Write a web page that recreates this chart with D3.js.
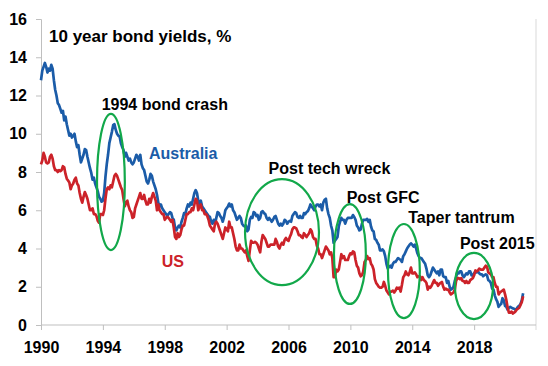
<!DOCTYPE html>
<html>
<head>
<meta charset="utf-8">
<script src="https://cdn.jsdelivr.net/npm/d3@7"></script>
<style>
  body { margin: 0; background: #fff; }
  svg text { font-family: "Liberation Sans", Arial, sans-serif; font-weight: bold; }
</style>
</head>
<body>
<div id="chart"></div>
<script>
// monthly 10y yields, one row per year (Jan..Dec)
const startYear = 1990;

const australia = [
  12.8, 13.3, 13.5, 13.7, 13.5, 13.2, 13.4, 13.3, 13.6, 13.4, 12.8, 12.3,
  12.0, 11.6, 11.5, 11.3, 11.1, 11.2, 10.7, 10.9, 10.5, 10.2, 9.9, 10.0,
  9.8, 9.9, 10.0, 9.6, 9.3, 9.4, 8.9, 8.5, 8.7, 8.9, 9.2, 9.15,
  8.8, 8.5, 8.2, 7.95, 7.6, 7.7, 7.4, 7.2, 7.0, 6.7, 6.6, 6.45,
  6.5, 6.9, 7.75, 8.4, 8.9, 9.5, 9.8, 10.1, 10.45, 10.5, 10.2, 10.0,
  9.9, 9.85, 9.5, 9.3, 9.15, 8.8, 9.0, 8.8, 8.6, 8.7, 8.5, 8.4,
  8.5, 8.7, 8.9, 8.8, 8.6, 8.9, 8.4, 8.2, 8.1, 7.8, 7.5, 7.4,
  7.6, 7.9, 7.8, 7.5, 7.3, 7.1, 6.8, 6.4, 6.2, 6.3, 6.1, 6.0,
  5.9, 5.8, 5.7, 5.8, 5.9, 5.85, 5.6, 5.5, 5.1, 4.95, 5.1, 5.2,
  5.1, 5.4, 5.6, 5.85, 5.8, 6.1, 6.3, 6.2, 6.4, 6.3, 6.6, 6.9,
  7.05, 6.9, 6.5, 6.3, 6.5, 6.2, 6.1, 6.0, 5.9, 5.8, 5.7, 5.65,
  5.4, 5.3, 5.5, 5.3, 5.6, 5.9, 5.85, 5.7, 5.6, 5.4, 5.65, 6.0,
  6.1, 6.2, 6.35, 6.2, 6.3, 6.0, 5.9, 5.7, 5.5, 5.6, 5.7, 5.6,
  5.3, 5.2, 5.15, 5.2, 4.9, 5.0, 5.5, 5.65, 5.6, 5.9, 5.85, 5.7,
  5.75, 5.5, 5.6, 5.9, 5.95, 5.85, 5.8, 5.6, 5.5, 5.6, 5.5, 5.4,
  5.5, 5.65, 5.7, 5.5, 5.3, 5.2, 5.3, 5.2, 5.3, 5.5, 5.45, 5.3,
  5.4, 5.45, 5.4, 5.7, 5.8, 5.9, 5.85, 5.65, 5.6, 5.7, 5.6, 5.6,
  5.85, 5.8, 5.9, 5.95, 6.1, 6.3, 6.2, 6.1, 6.0, 6.2, 6.3, 6.3,
  6.2, 6.3, 6.0, 6.4, 6.55, 6.6, 6.1, 5.8, 5.6, 5.2, 4.95, 4.3,
  4.4, 4.5, 4.6, 5.15, 5.4, 5.6, 5.5, 5.5, 5.3, 5.5, 5.6, 5.6,
  5.6, 5.6, 5.75, 5.65, 5.5, 5.2, 5.1, 4.95, 5.0, 5.3, 5.5, 5.5,
  5.5, 5.55, 5.4, 5.5, 5.15, 4.95, 4.9, 4.5, 4.45, 4.3, 4.2, 3.9,
  3.9, 3.95, 3.85, 3.6, 3.2, 2.95, 3.05, 3.1, 3.0, 3.2, 3.3, 3.3,
  3.4, 3.5, 3.45, 3.4, 3.3, 3.6, 3.7, 3.85, 4.0, 4.1, 4.2, 4.27,
  4.2, 4.1, 4.2, 4.0, 3.75, 3.6, 3.5, 3.5, 3.4, 3.3, 3.2, 2.95,
  2.6, 2.5, 2.6, 2.8, 3.0, 2.9, 2.8, 2.7, 2.8, 2.6, 2.9, 2.9,
  2.55, 2.5, 2.5, 2.2, 2.3, 2.0, 1.85, 1.9, 2.0, 2.3, 2.5, 2.75,
  2.7, 2.8, 2.8, 2.6, 2.5, 2.6, 2.7, 2.65, 2.8, 2.8, 2.6, 2.6,
  2.7, 2.8, 2.75, 2.8, 2.7, 2.65, 2.65, 2.55, 2.6, 2.65, 2.6, 2.35,
  2.3, 2.2, 1.9, 1.85, 1.55, 1.35, 1.22, 0.95, 1.05, 1.1, 1.4, 1.3,
  1.0, 0.95, 0.8, 0.9, 0.95, 0.9, 0.87, 0.85, 0.8, 0.85, 0.96, 1.0,
  1.1, 1.3, 1.66
];

const us = [
  8.4, 8.6, 9.0, 8.8, 8.5, 8.45, 8.5, 8.8, 8.9, 8.7, 8.3, 8.1,
  8.1, 8.0, 8.1, 8.05, 8.1, 8.3, 8.25, 7.9, 7.65, 7.55, 7.45, 7.1,
  7.3, 7.4, 7.6, 7.7, 7.4, 7.3, 6.9, 6.6, 6.4, 6.7, 6.95, 6.8,
  6.6, 6.3, 6.0, 6.0, 6.1, 5.8, 5.8, 5.7, 5.45, 5.35, 5.8, 5.8,
  5.75, 6.0, 6.6, 7.1, 7.2, 7.1, 7.3, 7.2, 7.5, 7.8, 7.9, 7.8,
  7.6, 7.4, 7.2, 7.05, 6.6, 6.2, 6.4, 6.5, 6.2, 6.0, 5.9, 5.6,
  5.65, 6.1, 6.3, 6.5, 6.7, 6.9, 6.6, 6.6, 6.8, 6.5, 6.3, 6.3,
  6.6, 6.4, 6.7, 6.9, 6.7, 6.5, 6.0, 6.3, 6.0, 5.9, 5.8, 5.8,
  5.5, 5.6, 5.65, 5.6, 5.5, 5.4, 5.5, 5.1, 4.6, 4.5, 4.8, 4.6,
  4.7, 5.0, 5.2, 5.2, 5.5, 5.8, 5.8, 5.9, 5.9, 6.1, 6.0, 6.3,
  6.6, 6.5, 6.0, 6.2, 6.3, 6.0, 6.0, 5.8, 5.8, 5.7, 5.5, 5.2,
  5.1, 5.0, 4.9, 5.3, 5.4, 5.3, 5.1, 4.9, 4.7, 4.5, 4.8, 5.1,
  5.0, 4.9, 5.4, 5.1, 5.1, 4.8, 4.5, 4.1, 3.9, 3.9, 4.2, 4.0,
  4.0, 3.9, 3.8, 3.9, 3.6, 3.35, 3.9, 4.4, 4.3, 4.3, 4.35, 4.3,
  4.2, 4.0, 3.8, 4.35, 4.7, 4.6, 4.5, 4.3, 4.1, 4.1, 4.2, 4.2,
  4.2, 4.2, 4.5, 4.35, 4.1, 4.0, 4.2, 4.3, 4.2, 4.45, 4.55, 4.45,
  4.4, 4.6, 4.75, 5.0, 5.1, 5.1, 5.05, 4.9, 4.7, 4.7, 4.6, 4.55,
  4.8, 4.7, 4.6, 4.7, 4.8, 5.0, 4.9, 4.6, 4.5, 4.5, 4.15, 4.0,
  3.7, 3.7, 3.5, 3.7, 3.9, 4.1, 4.0, 3.9, 3.7, 3.8, 3.5, 2.5,
  2.5, 2.9, 2.8, 2.9, 3.3, 3.7, 3.5, 3.6, 3.4, 3.4, 3.4, 3.6,
  3.75, 3.7, 3.85, 3.8, 3.4, 3.1, 3.0, 2.7, 2.55, 2.6, 2.8, 3.3,
  3.4, 3.6, 3.45, 3.5, 3.2, 3.1, 2.9, 2.4, 2.2, 2.1, 2.0, 1.95,
  1.95, 2.0, 2.25, 2.05, 1.8, 1.7, 1.6, 1.75, 1.75, 1.8, 1.7, 1.8,
  1.95, 1.9, 1.95, 1.75, 2.1, 2.5, 2.6, 2.8, 2.65, 2.6, 2.75, 3.0,
  2.7, 2.7, 2.75, 2.65, 2.5, 2.55, 2.55, 2.35, 2.5, 2.35, 2.3, 2.2,
  1.85, 2.0, 1.95, 2.05, 2.2, 2.35, 2.2, 2.2, 2.05, 2.15, 2.2, 2.25,
  2.0, 1.85, 1.9, 1.85, 1.85, 1.7, 1.6, 1.65, 1.7, 1.85, 2.3, 2.45,
  2.45, 2.4, 2.45, 2.3, 2.3, 2.2, 2.3, 2.2, 2.2, 2.35, 2.4, 2.45,
  2.6, 2.85, 2.8, 2.85, 2.95, 2.9, 2.9, 2.9, 3.0, 3.1, 3.05, 2.75,
  2.7, 2.65, 2.5, 2.5, 2.2, 2.0, 2.0, 1.6, 1.7, 1.75, 1.8, 1.85,
  1.6, 1.3, 0.9, 0.65, 0.65, 0.7, 0.6, 0.65, 0.7, 0.8, 0.85, 0.9,
  1.05, 1.2, 1.5
];

const xTicks = [1990, 1994, 1998, 2002, 2006, 2010, 2014, 2018];
const yTicks = [0, 2, 4, 6, 8, 10, 12, 14, 16];

// episodes circled on the chart: centre year/yield and half-widths
const episodes = [
  {name: '1994 bond crash', year: 1994.52, value: 7.48, dx: 0.9, dy: 3.56, labelYear: 1993.92, labelValue: 11.24},
  {name: 'Post tech wreck', year: 2005.58, value: 4.86, dx: 2.39, dy: 2.77, labelYear: 2004.71, labelValue: 7.9},
  {name: 'Post GFC', year: 2009.97, value: 3.71, dx: 1.03, dy: 2.61, labelYear: 2009.76, labelValue: 6.38},
  {name: 'Taper tantrum', year: 2013.46, value: 2.82, dx: 1.03, dy: 2.46, labelYear: 2013.74, labelValue: 5.33},
  {name: 'Post 2015', year: 2017.99, value: 2.04, dx: 1.23, dy: 1.73, labelYear: 2017.08, labelValue: 3.97}
];

const seriesLabels = [
  {name: 'Australia', color: '#1b5ca8', year: 1996.98, value: 8.68},
  {name: 'US', color: '#cc2229', year: 1997.8, value: 3.03}
];

const width = 548, height = 366;
const margin = {top: 19, right: 12, bottom: 41, left: 41};

const svg = d3.select('#chart')
  .append('svg')
    .attr('width', width)
    .attr('height', height);

const x = d3.scaleLinear()
  .domain([1990, 2022])
  .range([margin.left, width - margin.right]);

const y = d3.scaleLinear()
  .domain([0, 16])
  .range([height - margin.bottom, margin.top]);

const toPoints = (arr) => arr.map((v, i) => ({year: startYear + i / 12, value: v}));

// right frame line
svg.append('line')
  .attr('x1', x(2022)).attr('x2', x(2022))
  .attr('y1', y(16)).attr('y2', y(0) + 5)
  .attr('stroke', '#d9d9d9');

const xAxis = svg.append('g')
  .attr('transform', 'translate(0,' + y(0) + ')')
  .call(d3.axisBottom(x).tickValues(xTicks).tickFormat(d3.format('d')).tickSize(5).tickPadding(12));

const yAxis = svg.append('g')
  .attr('transform', 'translate(' + x(1990) + ',0)')
  .call(d3.axisLeft(y).tickValues(yTicks).tickSize(5).tickPadding(9));

[xAxis, yAxis].forEach((g) => {
  g.select('.domain').attr('stroke', '#bfbfbf');
  g.selectAll('.tick line').attr('stroke', '#bfbfbf');
  g.selectAll('.tick text')
    .attr('fill', '#000')
    .style('font-size', '16px')
    .style('font-weight', 'bold')
    .style('font-family', '"Liberation Sans", Arial, sans-serif');
});
xAxis.select('.domain').attr('d', 'M' + x(1990) + ',0H' + x(2022));

const line = d3.line()
  .x((d) => x(d.year))
  .y((d) => y(d.value));

svg.append('path')
  .datum(toPoints(australia))
  .attr('fill', 'none')
  .attr('stroke', seriesLabels[0].color)
  .attr('stroke-width', 2.7)
  .attr('stroke-linejoin', 'round')
  .attr('d', line);

svg.append('path')
  .datum(toPoints(us))
  .attr('fill', 'none')
  .attr('stroke', seriesLabels[1].color)
  .attr('stroke-width', 2.7)
  .attr('stroke-linejoin', 'round')
  .attr('d', line);

svg.selectAll('ellipse')
  .data(episodes).enter().append('ellipse')
  .attr('cx', (d) => x(d.year))
  .attr('cy', (d) => y(d.value))
  .attr('rx', (d) => x(d.year + d.dx) - x(d.year))
  .attr('ry', (d) => y(d.value - d.dy) - y(d.value))
  .attr('fill', 'none')
  .attr('stroke', '#12a84a')
  .attr('stroke-width', 2.2);

svg.selectAll('text.episode')
  .data(episodes).enter().append('text')
  .attr('class', 'episode')
  .attr('x', (d) => x(d.labelYear))
  .attr('y', (d) => y(d.labelValue))
  .style('font-size', '16px')
  .attr('fill', '#000')
  .text((d) => d.name);

svg.selectAll('text.series')
  .data(seriesLabels).enter().append('text')
  .attr('class', 'series')
  .attr('x', (d) => x(d.year))
  .attr('y', (d) => y(d.value))
  .style('font-size', '16px')
  .attr('fill', (d) => d.color)
  .text((d) => d.name);

svg.append('text')
  .attr('x', margin.left + 8)
  .attr('y', margin.top + 23)
  .style('font-size', '17px')
  .attr('fill', '#000')
  .text('10 year bond yields, %');
</script>
</body>
</html>
